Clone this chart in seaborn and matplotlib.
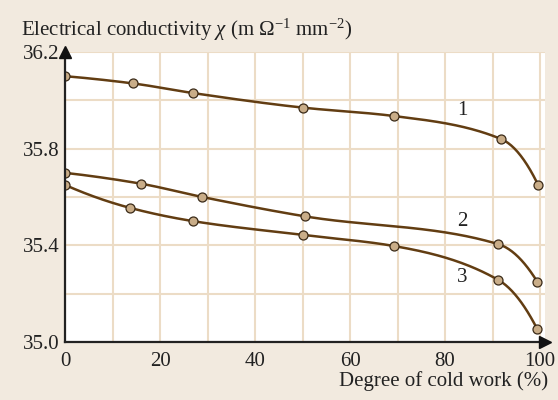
import numpy as np
import pandas as pd
import matplotlib
matplotlib.use("Agg")
import matplotlib.pyplot as plt
import seaborn as sns

# Measured conductivity vs. degree of cold work for three alloys
work_1 = [0, 14.3, 27, 50, 69.3, 91.8, 99.6]
cond_1 = [36.10, 36.07, 36.03, 35.97, 35.935, 35.84, 35.65]

work_2 = [0, 16, 28.9, 50.5, 91.2, 99.4]
cond_2 = [35.70, 35.655, 35.60, 35.52, 35.405, 35.25]

work_3 = [0, 13.7, 27, 50, 69.3, 91.2, 99.4]
cond_3 = [35.65, 35.555, 35.50, 35.443, 35.397, 35.257, 35.054]

curve_labels = ["1", "2", "3"]
label_x = [83.6, 83.6, 83.6]
label_y = [35.96, 35.50, 35.265]

x_ticks = [0, 20, 40, 60, 80, 100]
y_ticks = [35.0, 35.4, 35.8, 36.2]

BG = "#f2eadf"
GRID = "#ecdcc6"
LINE = "#623d12"
DOT = "#c9ad88"
FS = 15


def _end_slope(d, m_next):
    # parabolic end condition, kept monotone
    m = 2 * d - m_next
    if np.sign(m) != np.sign(d):
        m = 0.0
    return m


def pchip(x, y, n=300):
    """Monotone cubic (Fritsch-Carlson) curve through the given points."""
    x = np.asarray(x, float)
    y = np.asarray(y, float)
    h = np.diff(x)
    d = np.diff(y) / h
    m = np.zeros_like(y)
    for k in range(1, len(x) - 1):
        if d[k - 1] * d[k] > 0:
            w1 = 2 * h[k] + h[k - 1]
            w2 = h[k] + 2 * h[k - 1]
            m[k] = (w1 + w2) / (w1 / d[k - 1] + w2 / d[k])
    m[0] = _end_slope(d[0], m[1])
    m[-1] = _end_slope(d[-1], m[-2])
    xs = np.linspace(x[0], x[-1], n)
    idx = np.clip(np.searchsorted(x, xs) - 1, 0, len(x) - 2)
    t = (xs - x[idx]) / h[idx]
    h00 = 2 * t**3 - 3 * t**2 + 1
    h10 = t**3 - 2 * t**2 + t
    h01 = -2 * t**3 + 3 * t**2
    h11 = t**3 - t**2
    ys = (h00 * y[idx] + h10 * h[idx] * m[idx]
          + h01 * y[idx + 1] + h11 * h[idx] * m[idx + 1])
    return xs, ys


sns.set_theme(style="white")
plt.rcParams["font.family"] = ["Liberation Serif", "DejaVu Serif"]
plt.rcParams["mathtext.fontset"] = "custom"
plt.rcParams["mathtext.rm"] = "Liberation Serif"
plt.rcParams["mathtext.it"] = "Liberation Serif:italic"

fig = plt.figure(figsize=(5.58, 4.0), dpi=100, facecolor=BG)
ax = fig.add_axes([65 / 558, 1 - 342 / 400, 480 / 558, 290 / 400])
ax.set_facecolor("white")

for wx, cy in [(work_1, cond_1), (work_2, cond_2), (work_3, cond_3)]:
    xs, ys = pchip(wx, cy)
    smooth = pd.DataFrame({"work": xs, "cond": ys})
    pts = pd.DataFrame({"work": wx, "cond": cy})
    sns.lineplot(data=smooth, x="work", y="cond", ax=ax, color=LINE,
                 lw=1.8, zorder=3, sort=False)
    sns.scatterplot(data=pts, x="work", y="cond", ax=ax, color=DOT,
                    edgecolor="#3a2a18", linewidth=0.9, s=42, zorder=4)

for lab, lx, ly in zip(curve_labels, label_x, label_y):
    ax.text(lx, ly, lab, fontsize=FS, ha="center", va="center", color="#222222")

ax.set_xlim(0, 101.05)
ax.set_ylim(35.0, 36.2)
ax.set_xticks(x_ticks)
ax.set_xticks(np.arange(10, 101, 20), minor=True)
ax.set_yticks(y_ticks)
ax.set_yticks([35.2, 35.6, 36.0], minor=True)
ax.set_xticklabels([str(v) for v in x_ticks])
ax.set_yticklabels([f"{v:.1f}" for v in y_ticks])
ax.grid(True, which="both", color=GRID, lw=1.5, zorder=0)
ax.set_axisbelow(True)
ax.tick_params(which="both", length=0, labelsize=FS, colors="#222222")
ax.tick_params(axis="x", pad=7)
ax.tick_params(axis="y", pad=4)
ax.set_xlabel("")
ax.set_ylabel("")

for side in ["top", "right"]:
    ax.spines[side].set_visible(False)
for side in ["left", "bottom"]:
    ax.spines[side].set_color("#222222")
    ax.spines[side].set_linewidth(1.6)
    ax.spines[side].set_zorder(5)

# arrowheads on the axes
ax.plot(1, 0, ">", color="#111111", ms=8, transform=ax.transAxes,
        clip_on=False, zorder=6)
ax.plot(0, 1, "^", color="#111111", ms=8, transform=ax.transAxes,
        clip_on=False, zorder=6)

fig.text(21 / 558, 1 - 30 / 400,
         r"Electrical conductivity $\mathit{\chi}$ (m Ω$^{-1}$ mm$^{-2}$)",
         fontsize=FS, ha="left", va="center", color="#222222")
fig.text(548 / 558, 1 - 381 / 400, "Degree of cold work (%)",
         fontsize=FS, ha="right", va="center", color="#222222")

fig.savefig("out.png", dpi=100, facecolor=BG)
